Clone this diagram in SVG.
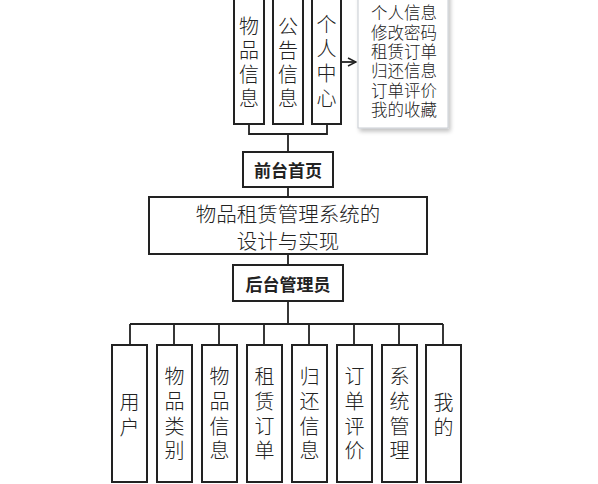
<svg xmlns="http://www.w3.org/2000/svg" width="598" height="484" viewBox="0 0 598 484">
<defs>
<style>
.box{fill:#fff;stroke:#222;stroke-width:2}
.ln{fill:none;stroke:#222;stroke-width:1.8}
.t{font-family:"Noto Sans CJK SC","Noto Sans",sans-serif;fill:#222;text-anchor:middle;dominant-baseline:central;font-weight:300}
.v{font-size:20px}
.b{font-family:"Noto Sans CJK SC","Noto Sans",sans-serif;font-weight:bold;font-size:17px;fill:#222;text-anchor:middle;dominant-baseline:central}
</style>
<marker id="arr" markerWidth="10" markerHeight="10" refX="9" refY="5" orient="auto" markerUnits="userSpaceOnUse">
<path d="M1,1 L9,5 L1,9" fill="none" stroke="#222" stroke-width="1.5"/>
</marker>
<filter id="sh" x="-20%" y="-20%" width="150%" height="150%">
<feGaussianBlur in="SourceAlpha" stdDeviation="2"/>
<feOffset dx="2" dy="3"/>
<feComponentTransfer><feFuncA type="linear" slope="0.25"/></feComponentTransfer>
<feMerge><feMergeNode/><feMergeNode in="SourceGraphic"/></feMerge>
</filter>
</defs>
<rect width="598" height="484" fill="#fff"/>
<g id="connectors">
<path class="ln" d="M249,124 V134 H327 V124 M288,134 V152 M288,187 V197 M288,254 V265 M288,301 V324 M130,324 H443 M130,324 V345 M174,324 V345 M219,324 V345 M264,324 V345 M309,324 V345 M354,324 V345 M399,324 V345 M443,324 V345"/>
<path class="ln" d="M341,62 H356" marker-end="url(#arr)"/>
</g>
<g id="n-wupin-top"><rect class="box" x="234" y="-10" width="30" height="134"/>
<text class="t v"><tspan x="249" y="25">物</tspan><tspan x="249" y="49">品</tspan><tspan x="249" y="73">信</tspan><tspan x="249" y="97">息</tspan></text></g>
<g id="n-gonggao"><rect class="box" x="273" y="-10" width="30" height="134"/>
<text class="t v"><tspan x="288" y="25">公</tspan><tspan x="288" y="49">告</tspan><tspan x="288" y="73">信</tspan><tspan x="288" y="97">息</tspan></text></g>
<g id="n-geren"><rect class="box" x="312" y="-10" width="29" height="134"/>
<text class="t v"><tspan x="326.5" y="23">个</tspan><tspan x="326.5" y="47">人</tspan><tspan x="326.5" y="72">中</tspan><tspan x="326.5" y="97">心</tspan></text></g>
<g id="n-gerenlist"><rect x="358" y="-10" width="90" height="138" fill="#fff" stroke="#c8ccd2" stroke-width="1" filter="url(#sh)"/>
<text class="t" style="font-size:16.5px"><tspan x="404" y="12">个人信息</tspan><tspan x="404" y="32">修改密码</tspan><tspan x="404" y="51">租赁订单</tspan><tspan x="404" y="70">归还信息</tspan><tspan x="404" y="90">订单评价</tspan><tspan x="404" y="109">我的收藏</tspan></text></g>
<g id="n-qiantai"><rect class="box" x="243" y="152" width="90" height="35"/>
<text class="b" x="288" y="169.5">前台首页</text></g>
<g id="n-main"><rect class="box" x="149" y="197" width="278" height="57"/>
<text class="t" style="font-size:20.5px"><tspan x="288" y="213">物品租赁管理系统的</tspan><tspan x="288" y="240">设计与实现</tspan></text></g>
<g id="n-houtai"><rect class="box" x="233" y="265" width="110" height="36"/>
<text class="b" x="288" y="283">后台管理员</text></g>
<g id="n-yonghu"><rect class="box" x="112" y="345" width="35" height="137"/>
<text class="t v"><tspan x="129.5" y="401">用</tspan><tspan x="129.5" y="426">户</tspan></text></g>
<g id="n-leibie"><rect class="box" x="157" y="345" width="35" height="137"/>
<text class="t v"><tspan x="174.5" y="375">物</tspan><tspan x="174.5" y="400">品</tspan><tspan x="174.5" y="425">类</tspan><tspan x="174.5" y="449">别</tspan></text></g>
<g id="n-xinxi"><rect class="box" x="202" y="345" width="35" height="137"/>
<text class="t v"><tspan x="219.5" y="375">物</tspan><tspan x="219.5" y="400">品</tspan><tspan x="219.5" y="425">信</tspan><tspan x="219.5" y="449">息</tspan></text></g>
<g id="n-zulin"><rect class="box" x="247" y="345" width="35" height="137"/>
<text class="t v"><tspan x="264.5" y="375">租</tspan><tspan x="264.5" y="400">赁</tspan><tspan x="264.5" y="425">订</tspan><tspan x="264.5" y="449">单</tspan></text></g>
<g id="n-guihuan"><rect class="box" x="292" y="345" width="35" height="137"/>
<text class="t v"><tspan x="309.5" y="375">归</tspan><tspan x="309.5" y="400">还</tspan><tspan x="309.5" y="425">信</tspan><tspan x="309.5" y="449">息</tspan></text></g>
<g id="n-pingjia"><rect class="box" x="337" y="345" width="35" height="137"/>
<text class="t v"><tspan x="354.5" y="375">订</tspan><tspan x="354.5" y="400">单</tspan><tspan x="354.5" y="425">评</tspan><tspan x="354.5" y="449">价</tspan></text></g>
<g id="n-xitong"><rect class="box" x="382" y="345" width="35" height="137"/>
<text class="t v"><tspan x="399.5" y="375">系</tspan><tspan x="399.5" y="400">统</tspan><tspan x="399.5" y="425">管</tspan><tspan x="399.5" y="449">理</tspan></text></g>
<g id="n-wode"><rect class="box" x="426" y="345" width="35" height="137"/>
<text class="t v"><tspan x="443.5" y="401">我</tspan><tspan x="443.5" y="426">的</tspan></text></g>
</svg>
